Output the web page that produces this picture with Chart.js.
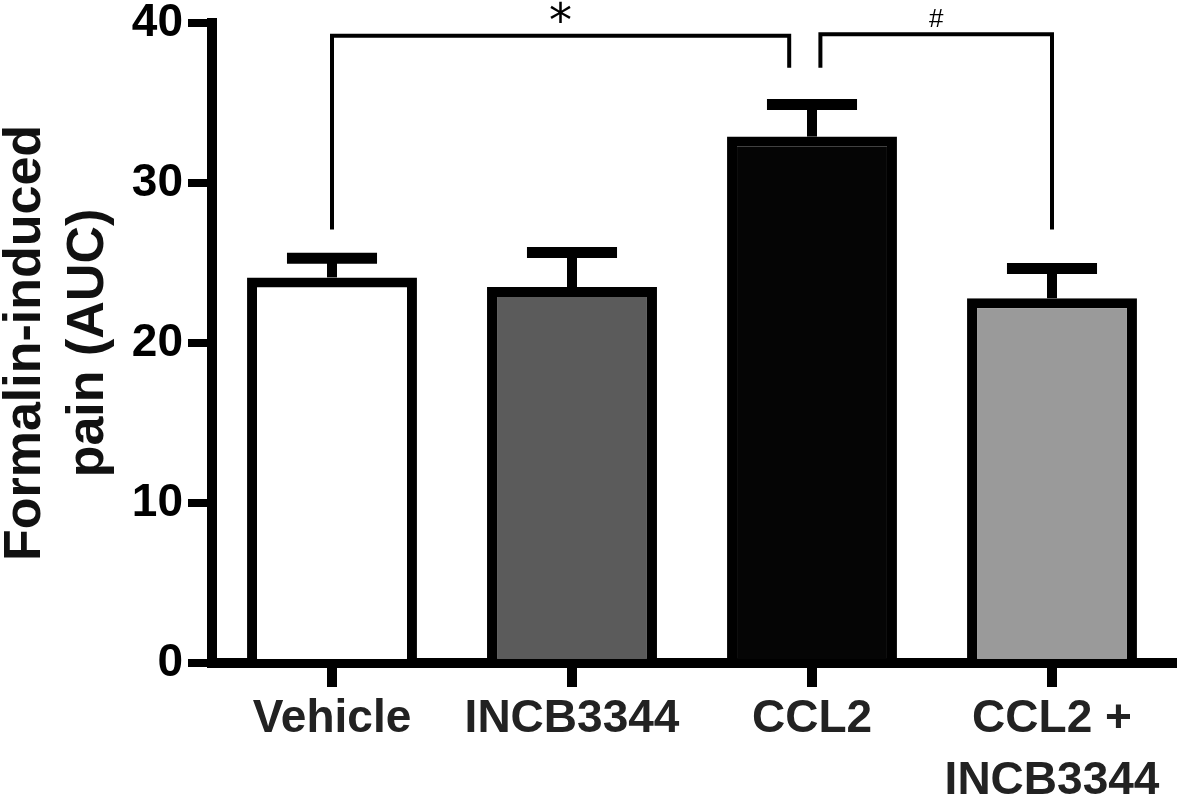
<!DOCTYPE html>
<html>
    <head>
        <title>Formalin-induced pain</title>
        <script src="https://cdn.jsdelivr.net/npm/chart.js@4/dist/chart.umd.min.js"></script>
        <style>
            body { margin: 0; background: #fff; }
        </style>
    </head>
    <body>
        <canvas id="chart" width="1181" height="795"></canvas>

        <script>
            const groups = ['Vehicle', 'INCB3344', 'CCL2', ['CCL2 +', 'INCB3344']]
            const means = [24.1, 23.5, 32.9, 22.8]
            const sems = [1.2, 2.15, 2.0, 1.85]
            const fills = ['#ffffff', '#5b5b5b', '#050505', '#9a9a9a']

            // significance brackets, in category index / axis units
            const bracketMarks = ['*', '#']
            const bracketFrom = [0, 2.035]
            const bracketTo = [1.905, 3]
            const bracketLevel = [39.2, 39.3]
            const footFrom = [27.1, 37.2]
            const footTo = [37.2, 27.1]

            const font = "'Liberation Sans', Arial, sans-serif"

            const errorBars = {
                id: 'errorBars',
                afterDatasetsDraw(chart) {
                    const { ctx, scales: { y } } = chart
                    const meta = chart.getDatasetMeta(0)
                    ctx.save()
                    ctx.strokeStyle = '#000'
                    ctx.lineCap = 'butt'
                    meta.data.forEach((bar, i) => {
                        const base = y.getPixelForValue(means[i])
                        const top = y.getPixelForValue(means[i] + sems[i])
                        const half = bar.width * 0.265
                        ctx.lineWidth = 10
                        ctx.beginPath()
                        ctx.moveTo(bar.x, base)
                        ctx.lineTo(bar.x, top)
                        ctx.stroke()
                        ctx.lineWidth = 11
                        ctx.beginPath()
                        ctx.moveTo(bar.x - half, top)
                        ctx.lineTo(bar.x + half, top)
                        ctx.stroke()
                    })
                    ctx.restore()
                },
            }

            const brackets = {
                id: 'brackets',
                afterDatasetsDraw(chart) {
                    const { ctx, scales: { x, y } } = chart
                    ctx.save()
                    ctx.strokeStyle = '#000'
                    ctx.fillStyle = '#000'
                    ctx.lineWidth = 4
                    ctx.lineJoin = 'miter'
                    bracketMarks.forEach((mark, i) => {
                        const x1 = x.getPixelForValue(bracketFrom[i])
                        const x2 = x.getPixelForValue(bracketTo[i])
                        const yl = y.getPixelForValue(bracketLevel[i])
                        ctx.beginPath()
                        ctx.moveTo(x1, y.getPixelForValue(footFrom[i]))
                        ctx.lineTo(x1, yl)
                        ctx.lineTo(x2, yl)
                        ctx.lineTo(x2, y.getPixelForValue(footTo[i]))
                        ctx.stroke()

                        ctx.font = mark === '*' ? "46px 'DejaVu Sans'" : `26px ${font}`
                        ctx.textAlign = 'center'
                        ctx.textBaseline = 'alphabetic'
                        const m = ctx.measureText(mark)
                        const bottom = yl - (mark === '*' ? 13 : 7)
                        ctx.fillText(mark, (x1 + x2) / 2, bottom - m.actualBoundingBoxDescent)
                    })
                    ctx.restore()
                },
            }

            new Chart('chart', {
                type: 'bar',
                data: {
                    labels: groups,
                    datasets: [
                        {
                            data: means,
                            backgroundColor: fills,
                            borderColor: '#000',
                            borderWidth: 10,
                            borderSkipped: 'start',
                            barPercentage: 1,
                            categoryPercentage: 0.708,
                        },
                    ],
                },
                options: {
                    responsive: false,
                    animation: false,
                    devicePixelRatio: 1,
                    layout: { padding: { top: 23, right: 9, left: 0, bottom: 0 } },
                    plugins: {
                        legend: { display: false },
                        tooltip: { enabled: false },
                    },
                    scales: {
                        x: {
                            z: 1,
                            offset: true,
                            grid: {
                                offset: false,
                                drawOnChartArea: false,
                                tickLength: 24,
                                tickWidth: 10,
                                tickColor: '#000',
                                lineWidth: 10,
                            },
                            border: { display: true, width: 10, color: '#000' },
                            ticks: {
                                color: '#222',
                                padding: 1,
                                maxRotation: 0,
                                autoSkip: false,
                                font: { family: font, size: 46, weight: 'bold', lineHeight: 1.35 },
                            },
                            afterFit(scale) {
                                scale.height = 132
                            },
                        },
                        y: {
                            z: 1,
                            min: 0,
                            max: 40,
                            grid: {
                                drawOnChartArea: false,
                                tickLength: 24,
                                tickWidth: 8,
                                tickColor: '#000',
                                lineWidth: 8,
                            },
                            border: { display: true, width: 10, color: '#000' },
                            ticks: {
                                stepSize: 10,
                                color: '#000',
                                padding: 5,
                                font: { family: font, size: 46, weight: 'bold', lineHeight: 0.75 },
                            },
                            title: {
                                display: true,
                                text: ['Formalin-induced', 'pain (AUC)'],
                                color: '#111',
                                padding: { top: -6, bottom: 0 },
                                font: { family: font, size: 52, weight: 'bold', lineHeight: 1.21 },
                            },
                            afterFit(scale) {
                                scale.width = 212
                            },
                        },
                    },
                },
                plugins: [errorBars, brackets],
            })
        </script>
    </body>
</html>
